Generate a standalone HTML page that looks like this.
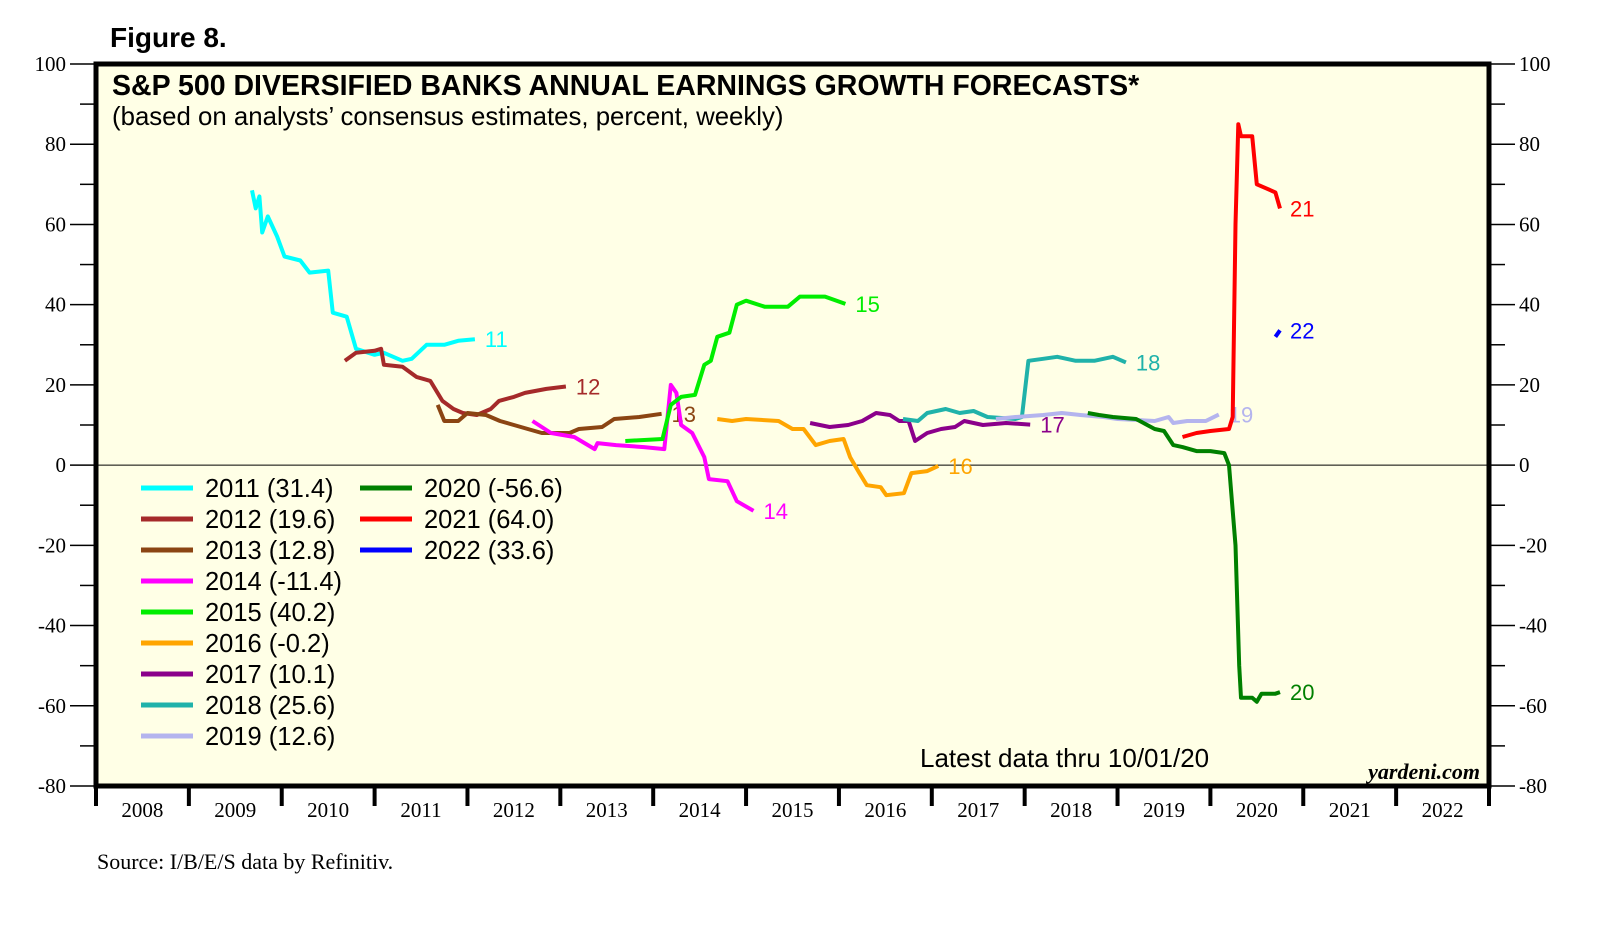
<!DOCTYPE html>
<html><head><meta charset="utf-8"><style>
body{margin:0;background:#fff;width:1610px;height:940px;overflow:hidden}
svg text{font-family:"Liberation Sans",sans-serif}
.tm{font-family:"Liberation Serif",serif}
</style></head><body>
<svg width="1610" height="940" xmlns="http://www.w3.org/2000/svg" id="chart">
<text x="110" y="47" font-size="28" font-weight="bold">Figure 8.</text>
<rect x="96" y="64" width="1393" height="722" fill="#ffffe6" stroke="#000" stroke-width="5"/>
<text x="112" y="95" font-size="28.5" font-weight="bold">S&amp;P 500 DIVERSIFIED BANKS ANNUAL EARNINGS GROWTH FORECASTS*</text>
<text x="112" y="125" font-size="25.8">(based on analysts’ consensus estimates, percent, weekly)</text>
<text x="920" y="767" font-size="26">Latest data thru  10/01/20</text>
<text x="1480" y="779" font-size="22" font-weight="bold" font-style="italic" text-anchor="end" class="tm">yardeni.com</text>
<text x="97" y="869" font-size="22" class="tm">Source: I/B/E/S data by Refinitiv.</text>
<g id="axes"></g><g id="series"></g><g id="legend"></g>
</svg>
<script>
const yearTicks=[2008,2009,2010,2011,2012,2013,2014,2015,2016,2017,2018,2019,2020,2021,2022];
const yTickLabels=[100,80,60,40,20,0,-20,-40,-60,-80];
const s2011=[[2009.68,68.5],[2009.72,64],[2009.76,67],[2009.79,58],[2009.85,62],[2009.95,57],[2010.03,52],[2010.2,51],[2010.3,48],[2010.5,48.5],[2010.55,38],[2010.7,37],[2010.8,29],[2011.0,27.5],[2011.1,28],[2011.3,26],[2011.4,26.5],[2011.56,30],[2011.75,30],[2011.9,31],[2012.08,31.4]];
const s2012=[[2010.68,26],[2010.8,28],[2011.0,28.5],[2011.07,29],[2011.1,25],[2011.3,24.5],[2011.45,22],[2011.6,21],[2011.73,16],[2011.85,14],[2011.95,13],[2012.1,12.5],[2012.25,14],[2012.34,16],[2012.5,17],[2012.62,18],[2012.85,19],[2013.06,19.6]];
const s2013=[[2011.68,15],[2011.75,11],[2011.9,11],[2012.0,13],[2012.2,12.5],[2012.35,11],[2012.5,10],[2012.65,9],[2012.8,8],[2013.1,8],[2013.2,9],[2013.45,9.5],[2013.58,11.5],[2013.85,12],[2014.09,12.8]];
const s2014=[[2012.7,11],[2012.9,8],[2013.15,7],[2013.37,4],[2013.4,5.5],[2013.6,5],[2013.9,4.5],[2014.12,4],[2014.19,20],[2014.25,18],[2014.3,10],[2014.42,8],[2014.55,2],[2014.6,-3.5],[2014.8,-4],[2014.9,-9],[2015.08,-11.4]];
const s2015=[[2013.7,6],[2014.1,6.5],[2014.19,15],[2014.3,17],[2014.45,17.5],[2014.55,25],[2014.62,26],[2014.69,32],[2014.82,33],[2014.9,40],[2015.0,41],[2015.2,39.5],[2015.45,39.5],[2015.58,42],[2015.85,42],[2016.07,40.2]];
const s2016=[[2014.69,11.5],[2014.85,11],[2015.0,11.5],[2015.35,11],[2015.5,9],[2015.62,9],[2015.75,5],[2015.9,6],[2016.05,6.5],[2016.12,2],[2016.22,-2],[2016.3,-5],[2016.45,-5.5],[2016.51,-7.5],[2016.7,-7],[2016.78,-2],[2016.95,-1.5],[2017.07,-0.2]];
const s2017=[[2015.69,10.5],[2015.9,9.5],[2016.1,10],[2016.25,11],[2016.4,13],[2016.55,12.5],[2016.65,11],[2016.75,11],[2016.82,6],[2016.95,8],[2017.1,9],[2017.25,9.5],[2017.35,11],[2017.55,10],[2017.8,10.5],[2018.06,10.1]];
const s2018=[[2016.69,11.5],[2016.85,11],[2016.95,13],[2017.15,14],[2017.3,13],[2017.45,13.5],[2017.6,12],[2017.9,11.5],[2017.97,12],[2018.04,26],[2018.2,26.5],[2018.35,27],[2018.55,26],[2018.75,26],[2018.95,27],[2019.09,25.6]];
const s2019=[[2017.69,11.5],[2017.9,12],[2018.2,12.5],[2018.4,13],[2018.6,12.5],[2018.85,12],[2019.0,11.5],[2019.4,11],[2019.55,12],[2019.6,10.5],[2019.75,11],[2019.95,11],[2020.09,12.6]];
const s2020=[[2018.68,13],[2018.8,12.5],[2018.95,12],[2019.2,11.5],[2019.4,9],[2019.5,8.5],[2019.6,5],[2019.7,4.5],[2019.85,3.5],[2020.0,3.5],[2020.15,3],[2020.2,0],[2020.27,-20],[2020.31,-50],[2020.33,-58],[2020.45,-58],[2020.5,-59],[2020.55,-57],[2020.7,-57],[2020.75,-56.6]];
const s2021=[[2019.7,7],[2019.85,8],[2020.0,8.5],[2020.2,9],[2020.24,12],[2020.27,60],[2020.3,85],[2020.33,82],[2020.45,82],[2020.5,70],[2020.6,69],[2020.7,68],[2020.75,64]];
const s2022=[[2020.7,32],[2020.75,33.6]];
const seriesData=[s2011,s2012,s2013,s2014,s2015,s2016,s2017,s2018,s2019,s2020,s2021,s2022];
const seriesNames=['2011','2012','2013','2014','2015','2016','2017','2018','2019','2020','2021','2022'];
const legendVals=['31.4','19.6','12.8','-11.4','40.2','-0.2','10.1','25.6','12.6','-56.6','64.0','33.6'];
const endLabels=['11','12','13','14','15','16','17','18','19','20','21','22'];
const colors=['#00ffff','#a52a2a','#8b4513','#ff00ff','#00ee00','#ffa500','#8b008b','#20b2aa','#b4b4ee','#008000','#ff0000','#0000ff'];
const NS='http://www.w3.org/2000/svg';
const X0=96,X1=1489,Y0=64,Y1=786,xmin=2008,xmax=2023,ymin=-80,ymax=100;
const xs=v=>X0+(v-xmin)/(xmax-xmin)*(X1-X0);
const ys=v=>Y0+(ymax-v)/(ymax-ymin)*(Y1-Y0);
function mk(tag,at,parent){const e=document.createElementNS(NS,tag);for(const k in at)e.setAttribute(k,at[k]);parent.appendChild(e);return e;}
const ax=document.getElementById('axes');
const zl=mk('line',{x1:X0,x2:X1,y1:ys(0),y2:ys(0),stroke:'#000','stroke-width':1},ax);


for(let v=ymin;v<=ymax;v+=10){
 const major=v%20===0;
 const tl=mk('line',{x1:X0-(major?26:16),x2:X0,y1:ys(v),y2:ys(v),stroke:'#000','stroke-width':1.5},ax);
 
 
 const tr=mk('line',{x1:X1,x2:X1+(major?26:16),y1:ys(v),y2:ys(v),stroke:'#000','stroke-width':1.5},ax);
 
 
}
yTickLabels.forEach(v=>{
 const a=mk('text',{x:X0-30,y:ys(v)+7,'font-size':21,'text-anchor':'end',class:'tm'},ax);a.textContent=v;
 
 
 const b=mk('text',{x:X1+30,y:ys(v)+7,'font-size':21,class:'tm'},ax);b.textContent=v;
 
 
});
yearTicks.forEach(yr=>{
 const t=mk('line',{x1:xs(yr),x2:xs(yr),y1:Y1,y2:Y1+20,stroke:'#000','stroke-width':4},ax);
 
 
 const l=mk('text',{x:xs(yr+0.5),y:Y1+31,'font-size':21,'text-anchor':'middle',class:'tm'},ax);l.textContent=yr;
 
 
});
const t2=mk('line',{x1:X1,x2:X1,y1:Y1,y2:Y1+20,stroke:'#000','stroke-width':4},ax);


const sg=document.getElementById('series');
seriesData.forEach((d,i)=>{
 const p=mk('polyline',{points:d.map(q=>xs(q[0]).toFixed(1)+','+ys(q[1]).toFixed(1)).join(' '),fill:'none',stroke:colors[i],'stroke-width':4,'stroke-linejoin':'round'},sg);
 
 
 const last=d[d.length-1];
 const t=mk('text',{x:xs(last[0])+10,y:ys(last[1])+8,'font-size':22,fill:colors[i]},sg);t.textContent=endLabels[i];
 
 
});
const lg=document.getElementById('legend');
seriesNames.forEach((n,i)=>{
 const col=i<9?0:1,row=i<9?i:i-9;
 const lx=col?360:141,ly=488+row*31;
 const g=mk('g',{},lg);
 
 
 mk('line',{x1:lx,x2:lx+52,y1:ly,y2:ly,stroke:colors[i],'stroke-width':5},g);
 const t=mk('text',{x:lx+64,y:ly+9,'font-size':25.5},g);t.textContent=n+' ('+legendVals[i]+')';
});
</script>
</body></html>
